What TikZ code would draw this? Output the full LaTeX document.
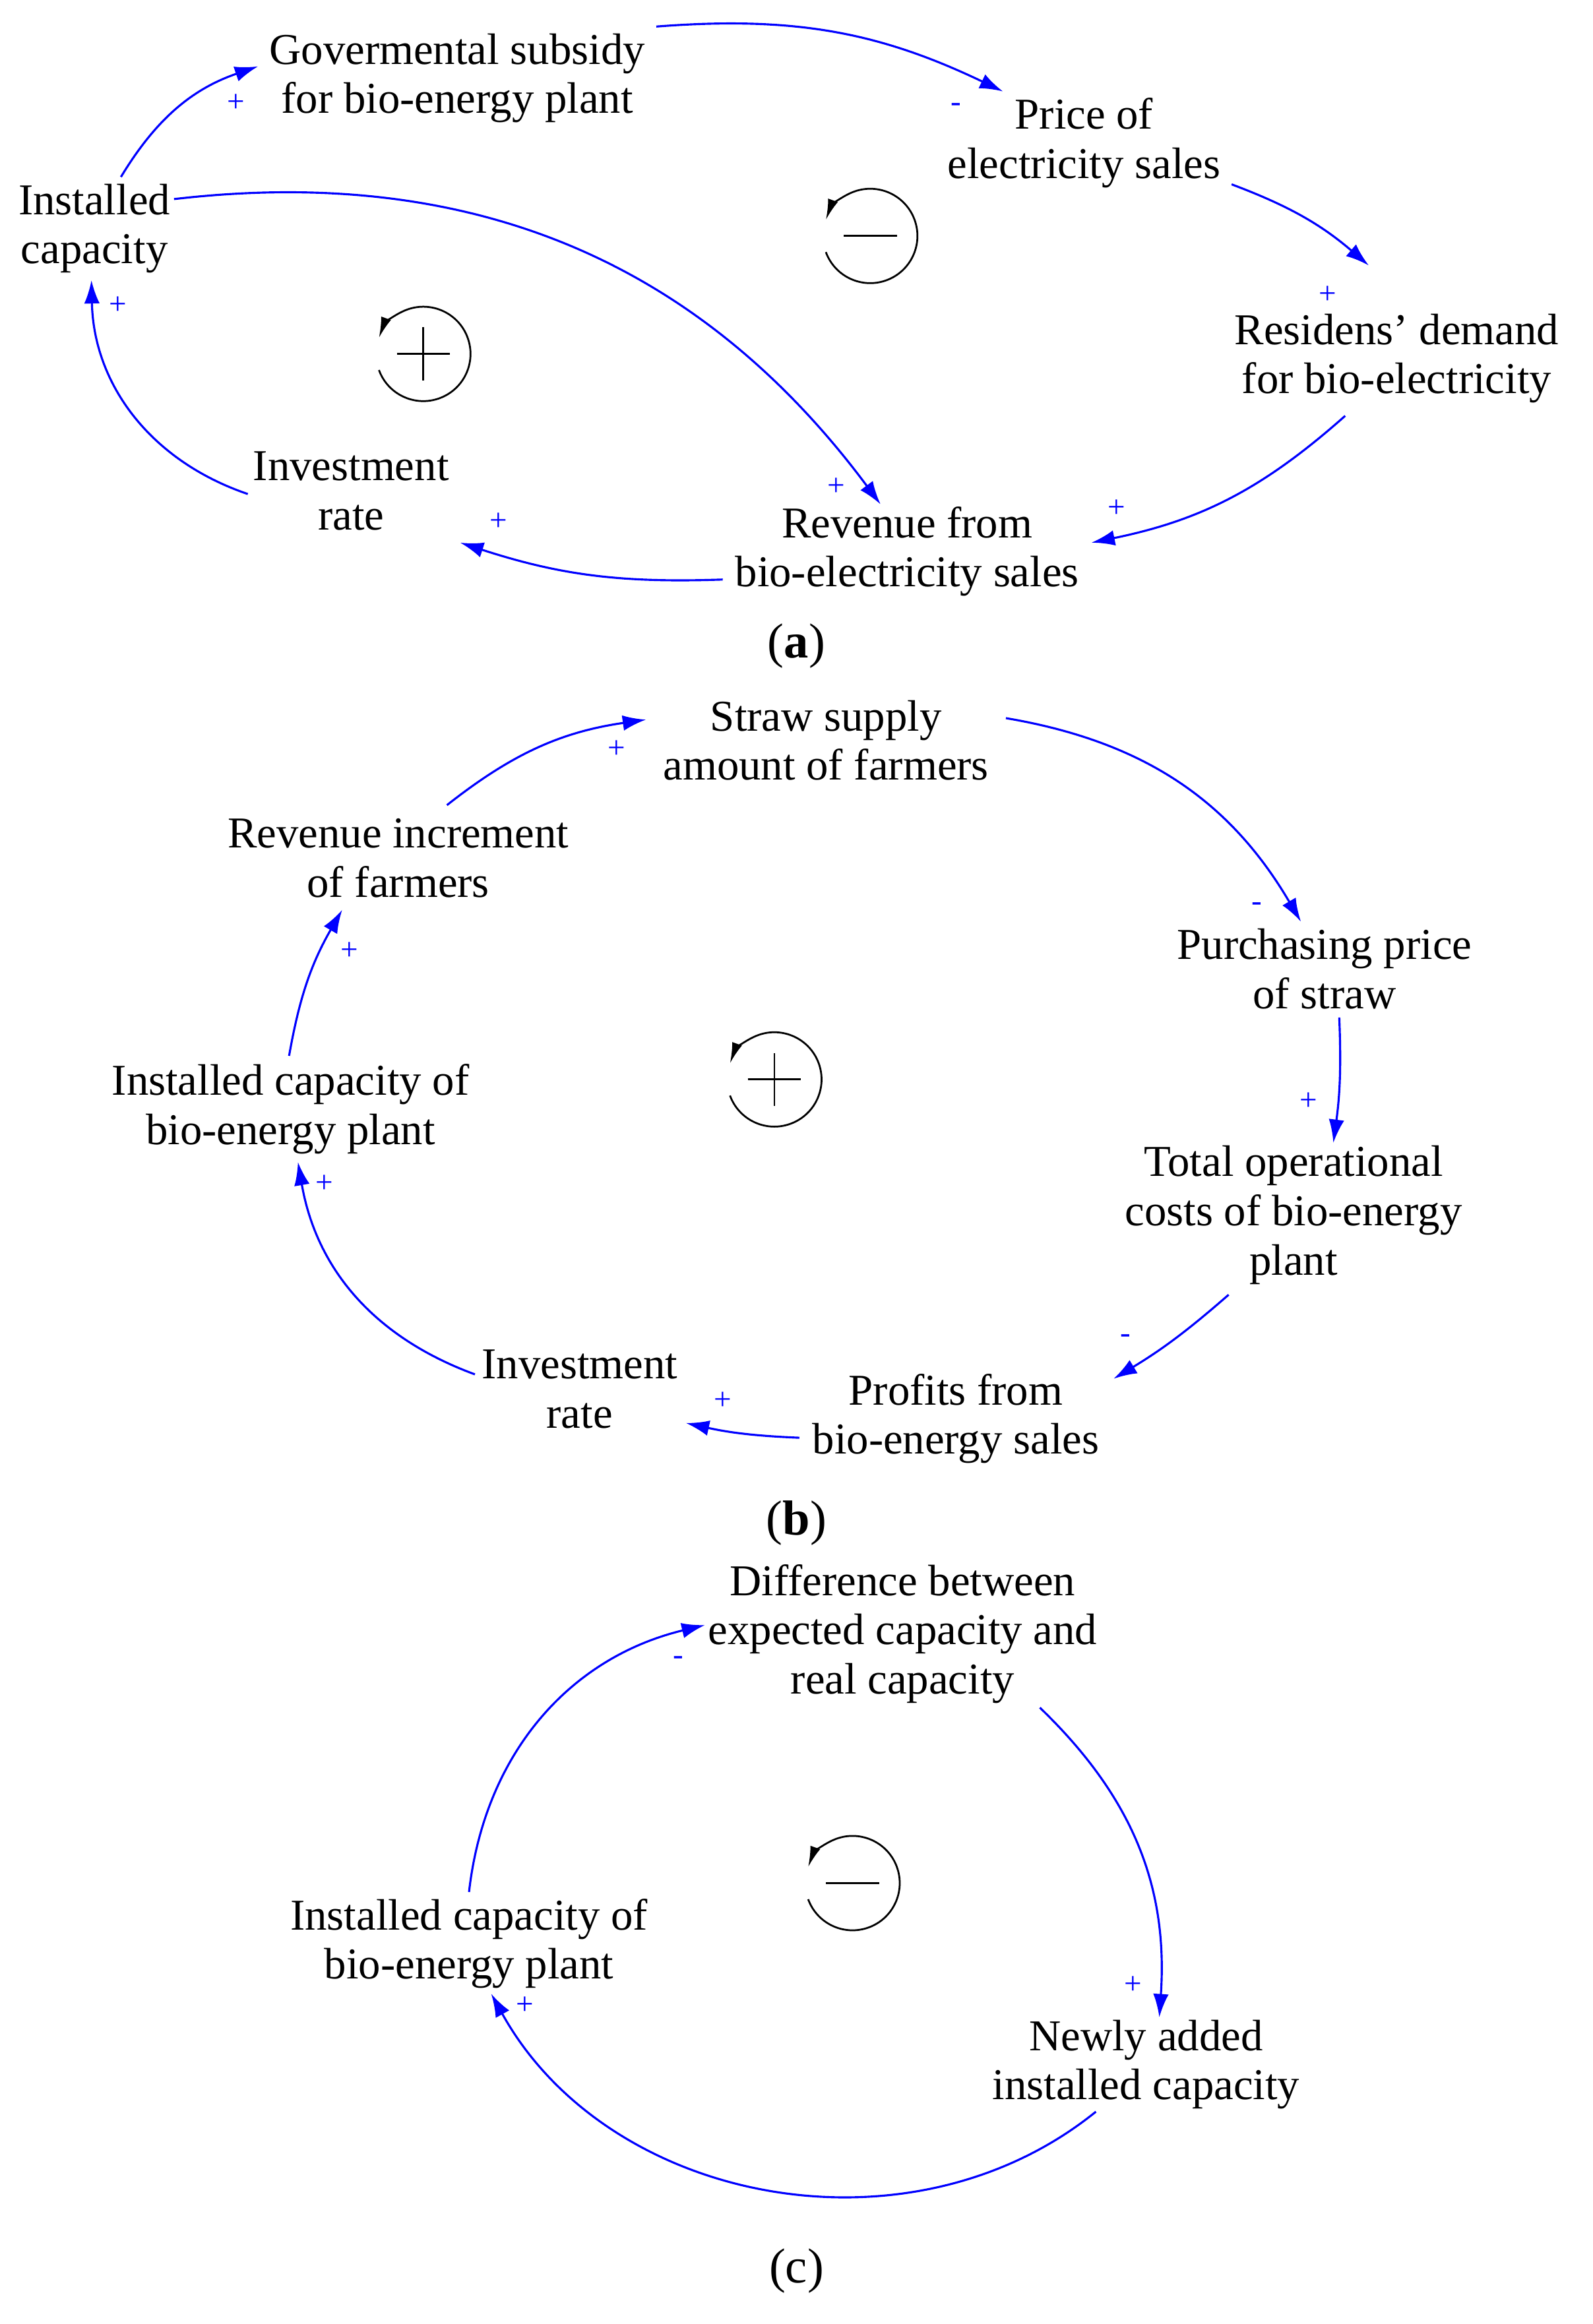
\documentclass[tikz,border=0pt]{standalone}
\usepackage{fontspec}
\setmainfont{Liberation Serif}
\usetikzlibrary{arrows.meta,calc}
\begin{document}
\begin{tikzpicture}[x=0.02cm,y=-0.02cm,
 lab/.style={align=center,font=\fontsize{17}{19}\selectfont,inner sep=0pt},
 sg/.style={text=blue,font=\fontsize{12}{12}\selectfont,inner sep=0pt},
 lk/.style={draw=blue,line width=0.8pt,-{Latex[length=9pt,width=6pt]}},
 captxt/.style={font=\fontsize{19}{21}\selectfont,inner sep=0pt}]
\useasboundingbox (0,0) rectangle (1080,1576);
% loop symbol
\newcommand{\myloop}[3]{%
 \draw[line width=0.7pt,-{Latex[length=8pt,width=4pt]}] ($(#1,#2)+(160:32)$) arc (160:-160:32);
 \ifnum#3=1 \draw[line width=0.7pt] (#1-18,#2)--(#1+18,#2) (#1,#2-18)--(#1,#2+18);\else \draw[line width=0.7pt] (#1-18,#2)--(#1+18,#2);\fi}
% ---------- (a)
\node[lab] (gov) at (310,53) {Govermental subsidy\\for bio-energy plant};
\node[lab] (price) at (735,97) {Price of\\electricity sales};
\node[lab] (res) at (947,243) {Residens' demand\\for bio-electricity};
\node[lab] (rev) at (615,374) {Revenue from\\bio-electricity sales};
\node[lab] (inv) at (238,333) {Investment\\rate};
\node[lab] (inst) at (64,155) {Installed\\capacity};
\coordinate (a1) at (82,120); \coordinate (a2) at (175,45);
\coordinate (b1) at (445,18); \coordinate (b2) at (680,62);
\coordinate (c1) at (835,125); \coordinate (c2) at (928,180);
\coordinate (d1) at (912,282); \coordinate (d2) at (740,368);
\coordinate (e1) at (490,393); \coordinate (e2) at (312,368);
\coordinate (f1) at (168,335); \coordinate (f2) at (62,190);
\coordinate (g1) at (118,135); \coordinate (g2) at (597,342);
\draw[lk] (a1) to[bend left=20] (a2);
\draw[lk] (b1) to[bend left=15] (b2);
\draw[lk] (c1) to[bend left=10] (c2);
\draw[lk] (d1) to[bend left=15] (d2);
\draw[lk] (e1) to[bend left=10] (e2);
\draw[lk] (f1) to[bend left=35] (f2);
\draw[lk] (g1) to[bend left=30] (g2);
\node[sg] at (160,70) {+}; \node[sg] at (648,73) {-}; \node[sg] at (900,200) {+};
\node[sg] at (757,345) {+}; \node[sg] at (338,354) {+}; \node[sg] at (80,207) {+}; \node[sg] at (567,330) {+};
\begin{scope}\myloop{590}{160}{0}\myloop{287}{240}{1}\end{scope}
\node[captxt] (ca) at (540,438) {(\textbf{a})};
% ---------- (b)
\node[lab] (straw) at (560,502) {Straw supply\\amount of farmers};
\node[lab] (purch) at (898,657) {Purchasing price\\of straw};
\node[lab] (total) at (877,824) {Total operational\\costs of bio-energy\\plant};
\node[lab] (prof) at (648,962) {Profits from\\bio-energy sales};
\node[lab] (invb) at (393,942) {Investment\\rate};
\node[lab] (instb) at (197,752) {Installed capacity of\\bio-energy plant};
\node[lab] (revinc) at (270,582) {Revenue increment\\of farmers};
\coordinate (h1) at (682,487); \coordinate (h2) at (882,625);
\coordinate (i1) at (908,690); \coordinate (i2) at (904,775);
\coordinate (j1) at (833,878); \coordinate (j2) at (755,935);
\coordinate (k1) at (542,975); \coordinate (k2) at (465,965);
\coordinate (l1) at (322,932); \coordinate (l2) at (202,788);
\coordinate (m1) at (196,716); \coordinate (m2) at (232,617);
\coordinate (n1) at (303,546); \coordinate (n2) at (438,488);
\draw[lk] (h1) to[bend left=25] (h2);
\draw[lk] (i1) to[bend left=5] (i2);
\draw[lk] (j1) to[bend left=5] (j2);
\draw[lk] (k1) to[bend left=5] (k2);
\draw[lk] (l1) to[bend left=30] (l2);
\draw[lk] (m1) to[bend left=10] (m2);
\draw[lk] (n1) to[bend left=15] (n2);
\node[sg] at (852,615) {-}; \node[sg] at (887,747) {+}; \node[sg] at (763,908) {-};
\node[sg] at (490,950) {+}; \node[sg] at (220,803) {+}; \node[sg] at (237,645) {+}; \node[sg] at (418,508) {+};
\begin{scope}\myloop{525}{732}{1}\end{scope}
\node[captxt] (cb) at (540,1033) {(\textbf{b})};
% ---------- (c)
\node[lab] (diff) at (612,1108) {Difference between\\expected capacity and\\real capacity};
\node[lab] (newly) at (777,1400) {Newly added\\installed capacity};
\node[lab] (instc) at (318,1318) {Installed capacity of\\bio-energy plant};
\coordinate (o1) at (705,1158); \coordinate (o2) at (786,1368);
\coordinate (p1) at (743,1432); \coordinate (p2) at (333,1352);
\coordinate (q1) at (318,1283); \coordinate (q2) at (478,1102);
\draw[lk] (o1) to[bend left=25] (o2);
\draw[lk] (p1) to[bend left=50] (p2);
\draw[lk] (q1) to[bend left=35] (q2);
\node[sg] at (768,1346) {+}; \node[sg] at (356,1360) {+}; \node[sg] at (460,1126) {-};
\begin{scope}\myloop{578}{1277}{0}\end{scope}
\node[captxt] (cc) at (540,1540) {(c)};
\end{tikzpicture}
\end{document}
